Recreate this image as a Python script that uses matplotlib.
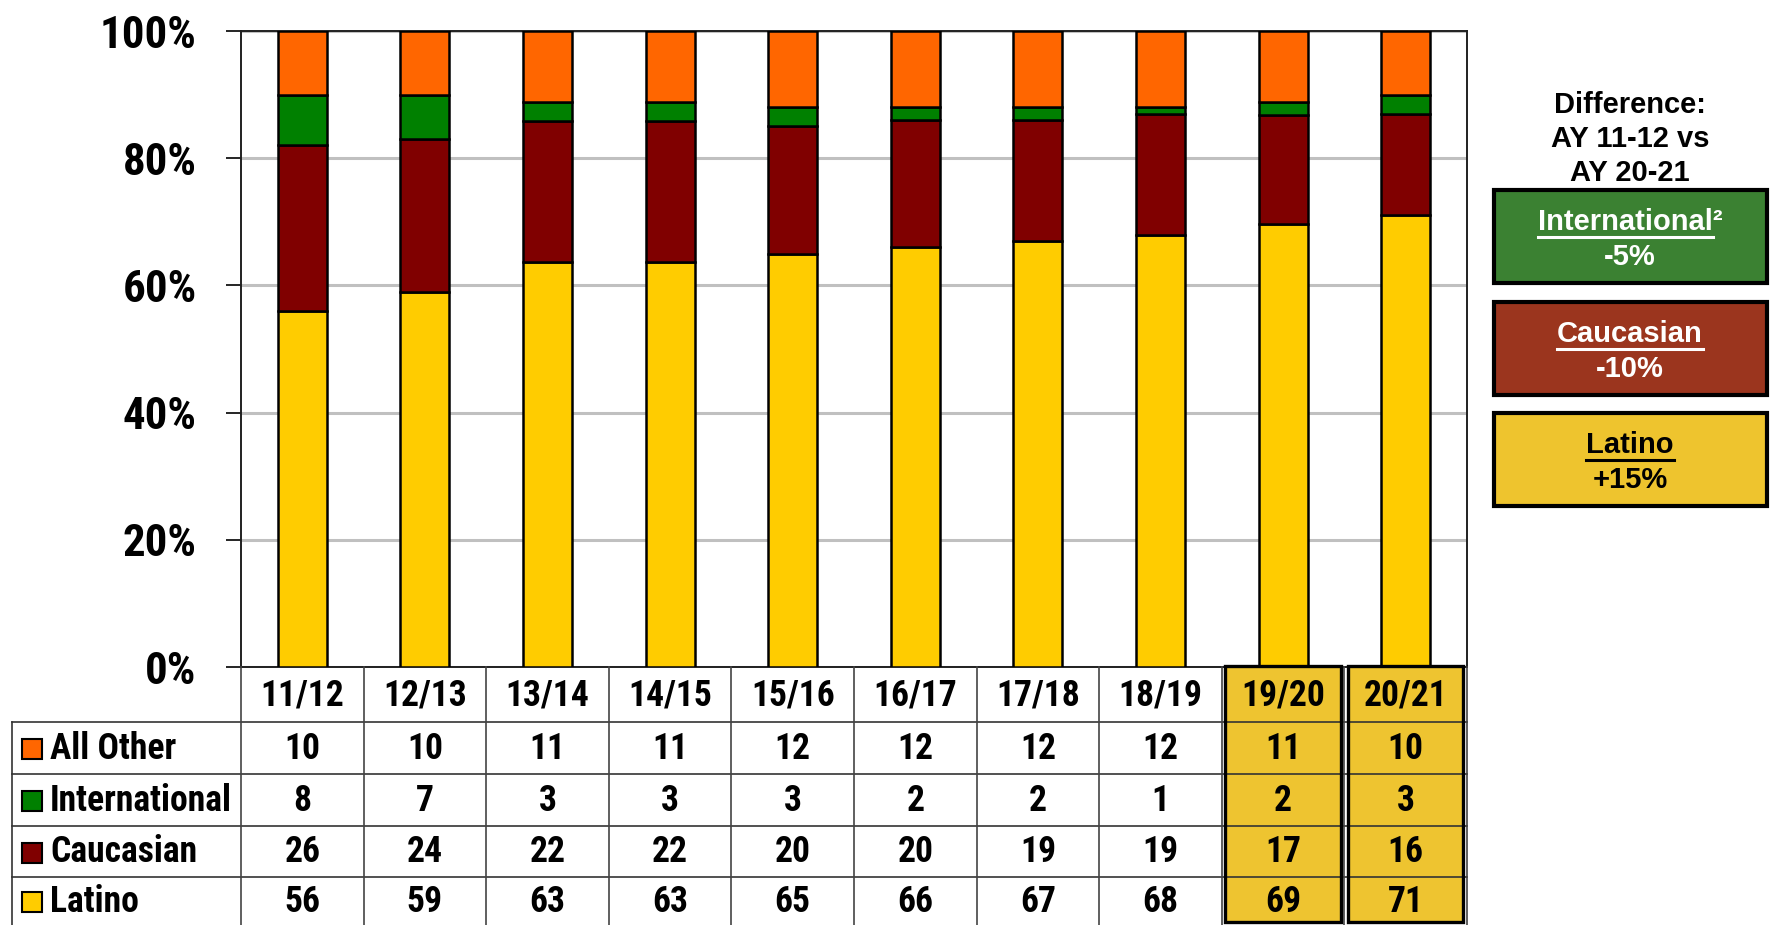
import matplotlib
matplotlib.use('Agg')
import matplotlib.pyplot as plt
import matplotlib.transforms as mtransforms
from matplotlib.patches import Rectangle
from matplotlib import font_manager
import numpy as np

# ---------------- data ----------------
years = ['11/12', '12/13', '13/14', '14/15', '15/16', '16/17', '17/18', '18/19', '19/20', '20/21']
table_rows = ['All Other', 'International', 'Caucasian', 'Latino']
all_other = [10, 10, 11, 11, 12, 12, 12, 12, 11, 10]
international = [8, 7, 3, 3, 3, 2, 2, 1, 2, 3]
caucasian = [26, 24, 22, 22, 20, 20, 19, 19, 17, 16]
latino = [56, 59, 63, 63, 65, 66, 67, 68, 69, 71]
series_colors = {'All Other': '#FF6600', 'International': '#008000',
                 'Caucasian': '#800000', 'Latino': '#FFCC00'}
highlight_years = ['19/20', '20/21']
y_ticks = [0, 20, 40, 60, 80, 100]

diff_title = ['Difference:', 'AY 11-12 vs', 'AY 20-21']
diff_labels = ['International', 'Caucasian', 'Latino']
diff_sup = ['²', '', '']
diff_values = ['-5%', '-10%', '+15%']
diff_colors = ['#3B8132', '#9B351E', '#EEC42E']
diff_text_colors = ['white', 'white', 'black']

# ---------------- fonts ----------------
bold_names = {f.name for f in font_manager.fontManager.ttflist if f.weight >= 700}
narrow_pref = ['Liberation Sans Narrow', 'Nimbus Sans Narrow', 'Arial Narrow', 'Roboto Condensed',
               'Archivo Narrow', 'PT Sans Narrow', 'Barlow Semi Condensed', 'Saira SemiCondensed']
narrow = next((n for n in narrow_pref if n in bold_names), 'DejaVu Sans')
NARROW = dict(family=[narrow, 'DejaVu Sans'], weight='bold')
WIDE = dict(family=['Liberation Sans', 'Arimo', 'DejaVu Sans'], weight='bold')

# ---------------- layout ----------------
W, H = 1772, 925
fig = plt.figure(figsize=(W / 100, H / 100), dpi=100)
L, R, T, B = 241, 1467, 31, 667
ax = fig.add_axes([L / W, 1 - B / H, (R - L) / W, (B - T) / H])
over = fig.add_axes([0, 0, 1, 1], zorder=5)
over.set_xlim(0, W)
over.set_ylim(H, 0)
over.axis('off')
over.patch.set_alpha(0)
renderer = fig.canvas.get_renderer()


def fit_size(text, base, target_px, font):
    t = fig.text(0, 0, text, fontsize=base, **font)
    w = t.get_window_extent(renderer).width
    t.remove()
    return min(base, base * target_px / w) if w > 0 else base


tick_fs = fit_size('100%', 34, 97, NARROW)
tbl_fs = fit_size('International', 26, 182, NARROW)
hdr_fs = min(tbl_fs, fit_size('20/21', 26, 95, NARROW))

# ---------------- bars ----------------
vals = {'All Other': all_other, 'International': international,
        'Caucasian': caucasian, 'Latino': latino}
totals = np.sum([np.array(v, float) for v in vals.values()], axis=0)
x = np.arange(len(years))
bottom = np.zeros(len(years))
for name in ['Latino', 'Caucasian', 'International', 'All Other']:
    share = np.array(vals[name], float) / totals * 100
    ax.bar(x, share, 0.4, bottom=bottom, color=series_colors[name],
           edgecolor='black', linewidth=1.8, zorder=3)
    bottom += share

ax.set_xlim(-0.5, len(years) - 0.5)
ax.set_ylim(0, 100)
ax.set_yticks(y_ticks)
ax.set_yticklabels([f'{t}%' for t in y_ticks], fontsize=tick_fs, **NARROW)
ax.set_xticks([])
ax.yaxis.grid(True, color='#C0C0C0', linewidth=2.2)
ax.set_axisbelow(True)
ax.tick_params(axis='y', length=11, width=1.2, pad=21)
for s in ax.spines.values():
    s.set_linewidth(1.4)
    s.set_color('#202020')

# ---------------- table ----------------
trans = mtransforms.blended_transform_factory(ax.transData, over.transData)
row_edges = [667, 722, 774, 826, 877, 925]
tbl_left = 12
n = len(years)

for yr in highlight_years:
    i = years.index(yr)
    over.add_patch(Rectangle((i - 0.47, 666), 0.94, 258, transform=trans,
                             facecolor='#EEC430', edgecolor='none', zorder=1, clip_on=False))

for y in row_edges[1:-1]:
    over.plot([tbl_left, R], [y, y], color='#333333', lw=1.2, zorder=2, clip_on=False)
over.plot([tbl_left, tbl_left], [row_edges[1], H], color='#333333', lw=1.2, zorder=2)
for k in range(n + 1):
    xv = k - 0.5
    over.plot([xv, xv], [667, H], transform=trans, color='#444444', lw=1.2, zorder=2, clip_on=False)

for yr in highlight_years:
    i = years.index(yr)
    over.add_patch(Rectangle((i - 0.47, 666), 0.94, 256, transform=trans,
                             facecolor='none', edgecolor='black', linewidth=2.4,
                             zorder=3, clip_on=False))

hdr_y = (row_edges[0] + row_edges[1]) / 2 + 1
for i, yr in enumerate(years):
    over.text(i, hdr_y, yr, transform=trans, ha='center', va='center',
              fontsize=hdr_fs, zorder=4, **NARROW)

for r, name in enumerate(table_rows):
    yc = (row_edges[r + 1] + row_edges[r + 2]) / 2 + 1
    over.add_patch(Rectangle((22, yc - 10), 20, 20, facecolor=series_colors[name],
                             edgecolor='black', linewidth=1.5, zorder=4))
    over.text(50, yc, name, ha='left', va='center', fontsize=tbl_fs, zorder=4, **NARROW)
    for i, v in enumerate(vals[name]):
        over.text(i, yc, str(v), transform=trans, ha='center', va='center',
                  fontsize=tbl_fs, zorder=4, **NARROW)

# ---------------- difference boxes ----------------
cx = 1630
for yy, line in zip([105, 139, 173], diff_title):
    over.text(cx, yy, line, ha='center', va='center', fontsize=21, **WIDE)

box_tops = [190, 302, 413]
box_h = 93
label_texts = []
for top, lab, sup, val, fc, tc in zip(box_tops, diff_labels, diff_sup, diff_values,
                                      diff_colors, diff_text_colors):
    over.add_patch(Rectangle((1494, top), 273, box_h, facecolor=fc, edgecolor='black',
                             linewidth=3, zorder=2))
    t = over.text(cx, top + 32, lab + sup, ha='center', va='center', fontsize=21,
                  color=tc, zorder=3, **WIDE)
    over.text(cx, top + 67, val, ha='center', va='center', fontsize=21,
              color=tc, zorder=3, **WIDE)
    label_texts.append((t, lab, tc))

fig.canvas.draw()
renderer = fig.canvas.get_renderer()
inv = over.transData.inverted()
for t, lab, tc in label_texts:
    bb = t.get_window_extent(renderer)
    tmp = over.text(0, 0, lab, fontsize=21, **WIDE)
    wb = tmp.get_window_extent(renderer).width
    tmp.remove()
    x0, y0 = inv.transform((bb.x0, bb.y0))
    x1, _ = inv.transform((bb.x0 + wb, bb.y0))
    over.plot([x0, x1], [y0 + 1, y0 + 1], color=tc, lw=2.2, zorder=3)

fig.savefig('out.png', dpi=100)
